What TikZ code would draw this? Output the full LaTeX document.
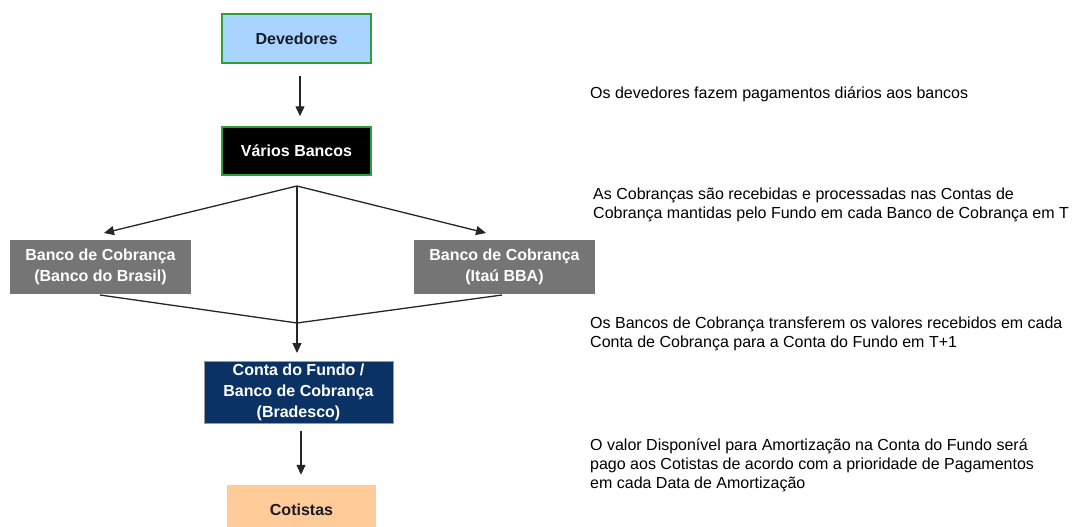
\documentclass[tikz,border=0pt]{standalone}
\usepackage{fontspec}
\setmainfont{Liberation Sans}
\usetikzlibrary{arrows.meta}
\definecolor{devfill}{HTML}{A9D4FF}
\definecolor{boxgreen}{HTML}{2E9E3A}
\definecolor{grayfill}{HTML}{757575}
\definecolor{navyfill}{HTML}{0B3264}
\definecolor{navyborder}{HTML}{9A9A9A}
\definecolor{peach}{HTML}{FFCC99}
\definecolor{darktext}{HTML}{1A1A2A}
\begin{document}
\begin{tikzpicture}[x=1pt,y=-1pt,
  box/.style={rectangle, inner sep=0pt, align=center,
    font=\bfseries\fontsize{16}{21}\selectfont},
  note/.style={anchor=west, align=left, inner sep=0pt,
    font=\fontsize{16}{19}\selectfont, text=black},
  conn/.style={line width=1.3pt, draw=black!85},
  arr/.style={conn, -{Triangle[length=10pt,width=9pt]}}]
\useasboundingbox (0,0) rectangle (1077,527);
\clip (0,0) rectangle (1077,527);
% boxes
\node[box, fill=devfill, draw=boxgreen, line width=1.5pt, text=darktext,
  minimum width=149pt, minimum height=49pt] (dev) at (296.5,38.5) {Devedores};
\node[box, fill=black, draw=boxgreen, line width=1.5pt, text=white,
  minimum width=149pt, minimum height=48pt] (var) at (296.5,151) {Vários Bancos};
\node[box, fill=grayfill, text=white,
  minimum width=181pt, minimum height=54pt] (bb) at (100.5,267) {Banco de Cobrança\\(Banco do Brasil)};
\node[box, fill=grayfill, text=white,
  minimum width=181pt, minimum height=54pt] (itau) at (504.5,267) {Banco de Cobrança\\(Itaú BBA)};
\node[box, fill=navyfill, draw=navyborder, line width=1pt, text=white,
  minimum width=189pt, minimum height=62pt] (conta) at (298.5,392.5) {Conta do Fundo /\\Banco de Cobrança\\(Bradesco)};
\node[box, fill=peach, text=darktext,
  minimum width=149pt, minimum height=50pt] (cot) at (301.5,510) {Cotistas};
% helper coordinates
\coordinate (apex) at (297,186);
\coordinate (bbtip) at (104,233);
\coordinate (itautip) at (486,233);
\coordinate (bbout) at (100,295);
\coordinate (itauout) at (502,295);
\coordinate (join) at (297,323);
\coordinate (contatip) at (297,353);
% connectors
\draw[arr] ([yshift=-12pt]dev.south -| 300,0) -- ([yshift=10pt]var.north -| 300,0);
\draw[arr] (apex) -- (bbtip);
\draw[arr] (apex) -- (itautip);
\draw[arr] (apex) -- (contatip);
\draw[conn] (bbout) -- (join) -- (itauout);
\draw[arr] ([yshift=-7pt]conta.south -| 301,0) -- ([yshift=10pt]cot.north -| 301,0);
% notes
\node[note] (n1) at (590,94) {Os devedores fazem pagamentos diários aos bancos};
\node[note] (n2) at (593,204.5) {As Cobranças são recebidas e processadas nas Contas de\\Cobrança mantidas pelo Fundo em cada Banco de Cobrança em T};
\node[note] (n3) at (590,333.5) {Os Bancos de Cobrança transferem os valores recebidos em cada\\Conta de Cobrança para a Conta do Fundo em T+1};
\node[note] (n4) at (590,465.5) {O valor Disponível para Amortização na Conta do Fundo será\\pago aos Cotistas de acordo com a prioridade de Pagamentos\\em cada Data de Amortização};
\end{tikzpicture}
\end{document}
